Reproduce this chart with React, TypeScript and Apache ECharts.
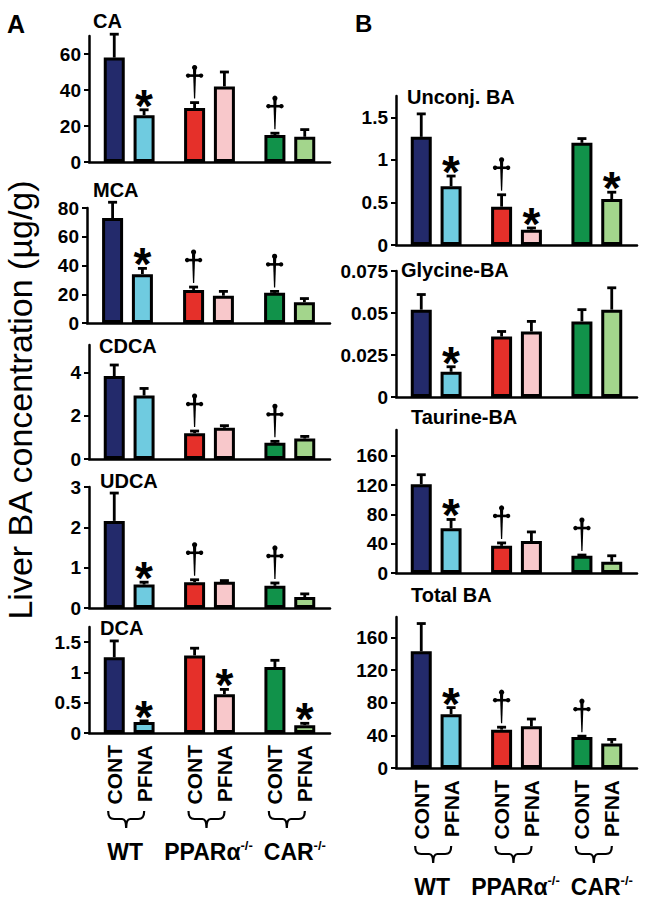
import React, { useEffect, useRef } from 'react';
import * as echarts from 'echarts';

// ---------- data ----------
const groups = ['WT', 'PPARα', 'CAR'];
const groupSup = ['', '-/-', '-/-'];
const treatments = ['CONT', 'PFNA'];

// rows: [CONT, PFNA]; columns: WT, PPARα-/-, CAR-/-
const caMean = [[58, 30, 15], [26, 42, 14]];
const caSem = [[13, 3, 1], [3, 8, 4]];
const caSig = [['', '†', '†'], ['*', '', '']];
const caTicks = [0, 20, 40, 60];
const caMax = 70;

const mcaMean = [[73, 23, 21], [34, 19, 14.5]];
const mcaSem = [[11, 2, 1], [4, 3, 2.5]];
const mcaSig = [['', '†', '†'], ['*', '', '']];
const mcaTicks = [0, 20, 40, 60, 80];
const mcaMax = 80;

const cdcaMean = [[3.86, 1.2, 0.75], [2.95, 1.45, 0.95]];
const cdcaSem = [[0.51, 0.1, 0.07], [0.33, 0.1, 0.1]];
const cdcaSig = [['', '†', '†'], ['', '', '']];
const cdcaTicks = [0, 2, 4];
const cdcaMax = 5.3;

const udcaMean = [[2.16, 0.64, 0.55], [0.58, 0.65, 0.27]];
const udcaSem = [[0.69, 0.06, 0.07], [0.06, 0.03, 0.08]];
const udcaSig = [['', '†', '†'], ['*', '', '']];
const udcaTicks = [0, 1, 2, 3];
const udcaMax = 3;

const dcaMean = [[1.25, 1.28, 1.09], [0.18, 0.64, 0.13]];
const dcaSem = [[0.27, 0.12, 0.11], [0.02, 0.08, 0.03]];
const dcaSig = [['', '', ''], ['*', '*', '*']];
const dcaTicks = [0, 0.5, 1, 1.5];
const dcaMax = 1.75;

const unconjMean = [[1.27, 0.45, 1.2], [0.69, 0.18, 0.54]];
const unconjSem = [[0.27, 0.14, 0.05], [0.12, 0.02, 0.08]];
const unconjSig = [['', '†', ''], ['*', '*', '*']];
const unconjTicks = [0, 0.5, 1, 1.5];
const unconjMax = 1.75;

const glyMean = [[0.052, 0.036, 0.045], [0.015, 0.039, 0.052]];
const glySem = [[0.009, 0.003, 0.007], [0.003, 0.006, 0.013]];
const glySig = [['', '', ''], ['*', '', '']];
const glyTicks = [0, 0.025, 0.05, 0.075];
const glyMax = 0.075;

const tauMean = [[121, 37, 23.5], [61, 43.5, 15.5]];
const tauSem = [[13, 4, 1], [12, 12.5, 8]];
const tauSig = [['', '†', '†'], ['*', '', '']];
const tauTicks = [0, 40, 80, 120, 160];
const tauMax = 195;

const totMean = [[143, 47, 38], [66, 51, 30]];
const totSem = [[34, 3, 1], [8, 9, 5]];
const totSig = [['', '†', '†'], ['*', '', '']];
const totTicks = [0, 40, 80, 120, 160];
const totMax = 185;

const panelTitles = ['CA', 'MCA', 'CDCA', 'UDCA', 'DCA', 'Unconj. BA', 'Glycine-BA', 'Taurine-BA', 'Total BA'];
const yTitle = 'Liver BA concentration (µg/g)';

// ---------- styles / layout ----------
const FONT = '"Liberation Sans", Arial, Helvetica, sans-serif';
const barColors = [
  ['#232a6b', '#6fcbe0'],
  ['#e5302a', '#f8c8cb'],
  ['#11924a', '#a3d58c'],
];
const BW = 21;
const GAP = 0.42;
const OFF = (BW * (1 + GAP)) / 2;

const layout = [
  { box: [89, 36, 241, 126], title: [93, 21] },
  { box: [87, 208, 243, 115], title: [93, 190] },
  { box: [89, 345, 241, 114], title: [99, 346] },
  { box: [89, 487, 241, 121], title: [100, 481] },
  { box: [89, 627, 241, 106], title: [100, 628] },
  { box: [396, 96, 241, 149], title: [407, 97] },
  { box: [396, 271, 241, 126], title: [401, 270] },
  { box: [396, 430, 241, 143], title: [411, 417] },
  { box: [396, 617, 241, 151], title: [411, 595] },
];
// horizontal nudge of the genotype labels under each group
const groupLabelShift = [-4, -1, 5];

const panels = [
  { mean: caMean, sem: caSem, sig: caSig, ticks: caTicks, max: caMax, xl: false },
  { mean: mcaMean, sem: mcaSem, sig: mcaSig, ticks: mcaTicks, max: mcaMax, xl: false },
  { mean: cdcaMean, sem: cdcaSem, sig: cdcaSig, ticks: cdcaTicks, max: cdcaMax, xl: false },
  { mean: udcaMean, sem: udcaSem, sig: udcaSig, ticks: udcaTicks, max: udcaMax, xl: false },
  { mean: dcaMean, sem: dcaSem, sig: dcaSig, ticks: dcaTicks, max: dcaMax, xl: true },
  { mean: unconjMean, sem: unconjSem, sig: unconjSig, ticks: unconjTicks, max: unconjMax, xl: false },
  { mean: glyMean, sem: glySem, sig: glySig, ticks: glyTicks, max: glyMax, xl: false },
  { mean: tauMean, sem: tauSem, sig: tauSig, ticks: tauTicks, max: tauMax, xl: false },
  { mean: totMean, sem: totSem, sig: totSig, ticks: totTicks, max: totMax, xl: true },
];

const BRACE = 'M0,0 C0,5 1,8 6,8 L14,8 C17,8 18,11 18,17 C18,11 19,8 22,8 L30,8 C35,8 36,5 36,0';

function errRender(sig: string[][]) {
  return (params: any, api: any) => {
    const g = api.value(0);
    const m = api.value(1);
    const s = api.value(2);
    const t = api.value(3);
    const p0 = api.coord([g, m]);
    const p1 = api.coord([g, m + s]);
    const x = p0[0] + (t === 0 ? -OFF : OFF);
    const yTop = p1[1];
    const st = { stroke: '#000', lineWidth: 2.8 };
    const children: any[] = [
      { type: 'line', shape: { x1: x, y1: p0[1], x2: x, y2: yTop }, style: st },
      { type: 'line', shape: { x1: x - 4.5, y1: yTop, x2: x + 4.5, y2: yTop }, style: st },
    ];
    const mk = sig[t][g];
    if (mk === '*') {
      children.push({
        type: 'text',
        x,
        y: yTop - 4,
        style: {
          text: '*',
          fontSize: 46,
          fontWeight: 'bold',
          fontFamily: FONT,
          fill: '#000',
          align: 'center',
          verticalAlign: 'middle',
        },
      });
    } else if (mk === '†') {
      const top = yTop - 37;
      const bot = yTop - 4;
      children.push(
        {
          type: 'polygon',
          shape: { points: [[x - 1.7, top + 2], [x + 1.7, top + 2], [x + 0.6, bot], [x - 0.6, bot]] },
          style: { fill: '#000' },
        },
        { type: 'line', shape: { x1: x - 6, y1: top + 10, x2: x + 6, y2: top + 10 }, style: { stroke: '#000', lineWidth: 2.6 } },
        { type: 'circle', shape: { cx: x, cy: top + 2, r: 2.6 }, style: { fill: '#000' } },
        { type: 'circle', shape: { cx: x - 6.5, cy: top + 10, r: 2.2 }, style: { fill: '#000' } },
        { type: 'circle', shape: { cx: x + 6.5, cy: top + 10, r: 2.2 }, style: { fill: '#000' } }
      );
    }
    return { type: 'group', children };
  };
}

function labelRender(params: any, api: any) {
  const g = api.value(0);
  const c = api.coord([g, 0]);
  const y0 = c[1];
  const children: any[] = [];
  treatments.forEach((tr, t) => {
    children.push({
      type: 'text',
      x: c[0] + (t === 0 ? -OFF : OFF),
      y: y0 + 12,
      rotation: Math.PI / 2,
      style: {
        text: tr,
        fontSize: 21,
        fontWeight: 'bold',
        fontFamily: FONT,
        fill: '#000',
        align: 'right',
        verticalAlign: 'middle',
      },
    });
  });
  children.push({
    type: 'path',
    shape: { pathData: BRACE, x: c[0] - 21, y: y0 + 78, width: 36, height: 17, layout: 'cover' },
    style: { fill: 'none', stroke: '#000', lineWidth: 2.2 },
  });
  const sup = groupSup[g];
  children.push({
    type: 'text',
    x: c[0] + groupLabelShift[g],
    y: y0 + 118,
    style: {
      text: sup ? `{m|${groups[g]}}{s|${sup}}` : `{m|${groups[g]}}`,
      align: 'center',
      verticalAlign: 'middle',
      rich: {
        m: { fontSize: 23, fontWeight: 'bold', fontFamily: FONT, fill: '#000', lineHeight: 24, verticalAlign: 'bottom' },
        s: { fontSize: 13, fontWeight: 'bold', fontFamily: FONT, fill: '#000', lineHeight: 16, verticalAlign: 'top' },
      },
    },
  });
  return { type: 'group', children };
}

function buildOption() {
  const grid: any[] = [];
  const xAxis: any[] = [];
  const yAxis: any[] = [];
  const series: any[] = [];
  const graphic: any[] = [];

  panels.forEach((p, i) => {
    const [l, t, w, h] = layout[i].box;
    grid.push({ left: l, top: t, width: w, height: h, containLabel: false, outerBoundsMode: 'none' });
    xAxis.push({
      type: 'category',
      gridIndex: i,
      data: groups,
      axisLine: { show: true, onZero: true, lineStyle: { color: '#000', width: 2.5 } },
      axisTick: { show: false },
      axisLabel: { show: false },
      splitLine: { show: false },
    });
    yAxis.push({
      type: 'value',
      gridIndex: i,
      min: 0,
      max: p.max,
      axisLine: { show: true, lineStyle: { color: '#000', width: 2.5 } },
      axisTick: { show: true, inside: false, length: 5, customValues: p.ticks, lineStyle: { color: '#000', width: 2 } },
      axisLabel: {
        show: true,
        customValues: p.ticks,
        margin: 8,
        color: '#000',
        fontSize: 19,
        fontWeight: 'bold',
        fontFamily: FONT,
        formatter: (v: number) => String(v),
      },
      splitLine: { show: false },
    });
    treatments.forEach((tr, ti) => {
      series.push({
        type: 'bar',
        name: tr,
        xAxisIndex: i,
        yAxisIndex: i,
        barWidth: BW,
        barGap: `${GAP * 100}%`,
        data: p.mean[ti].map((v, g) => ({
          value: v,
          itemStyle: { color: barColors[g][ti], borderColor: '#000', borderWidth: 3 },
        })),
        z: 2,
      });
    });
    const errData: number[][] = [];
    treatments.forEach((tr, ti) => {
      p.mean[ti].forEach((v, g) => errData.push([g, v, p.sem[ti][g], ti]));
    });
    series.push({
      type: 'custom',
      xAxisIndex: i,
      yAxisIndex: i,
      renderItem: errRender(p.sig),
      data: errData,
      z: 5,
      clip: false,
    });
    if (p.xl) {
      series.push({
        type: 'custom',
        xAxisIndex: i,
        yAxisIndex: i,
        renderItem: labelRender,
        data: groups.map((g, gi) => [gi, 0]),
        z: 5,
        clip: false,
      });
    }
    graphic.push({
      type: 'text',
      x: layout[i].title[0],
      y: layout[i].title[1],
      style: {
        text: panelTitles[i],
        fontSize: 20,
        fontWeight: 'bold',
        fontFamily: FONT,
        fill: '#000',
        align: 'left',
        verticalAlign: 'middle',
      },
    });
  });

  graphic.push(
    {
      type: 'text',
      x: 7,
      y: 24,
      style: { text: 'A', fontSize: 25, fontWeight: 'bold', fontFamily: FONT, fill: '#000', align: 'left', verticalAlign: 'middle' },
    },
    {
      type: 'text',
      x: 355,
      y: 23,
      style: { text: 'B', fontSize: 24, fontWeight: 'bold', fontFamily: FONT, fill: '#000', align: 'left', verticalAlign: 'middle' },
    },
    {
      type: 'text',
      x: 20,
      y: 400,
      rotation: Math.PI / 2,
      style: { text: yTitle, fontSize: 34, fontFamily: FONT, fill: '#000', align: 'center', verticalAlign: 'middle' },
    }
  );

  return {
    animation: false,
    backgroundColor: '#fff',
    grid,
    xAxis,
    yAxis,
    series,
    graphic,
  };
}

export default function App() {
  const ref = useRef<HTMLDivElement>(null);
  useEffect(() => {
    if (!ref.current) return;
    const chart = echarts.init(ref.current, null, { renderer: 'svg' });
    chart.setOption(buildOption() as any);
    return () => chart.dispose();
  }, []);
  return <div ref={ref} style={{ position: 'fixed', left: 0, top: 0, width: 650, height: 903 }} />;
}
